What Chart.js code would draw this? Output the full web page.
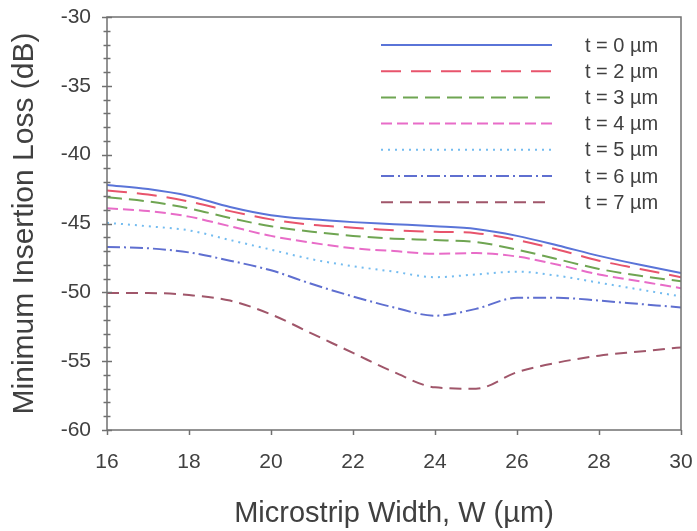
<!DOCTYPE html>
<html>
<head>
<meta charset="utf-8">
<script src="https://cdn.jsdelivr.net/npm/chart.js@4"></script>
<style>
html,body{margin:0;padding:0;background:#fff;}
#wrap{width:697px;height:531px;position:relative;}
</style>
</head>
<body>
<div id="wrap"><canvas id="c" width="697" height="531"></canvas></div>
<script>
const widths = [16,17,18,19,20,21,22,23,24,25,26,27,28,29,30];
const seriesLabels = ['t = 0 \u00b5m','t = 2 \u00b5m','t = 3 \u00b5m','t = 4 \u00b5m','t = 5 \u00b5m','t = 6 \u00b5m','t = 7 \u00b5m'];
const t0 = [-42.2,-42.5,-43.0,-43.8,-44.4,-44.7,-44.9,-45.05,-45.2,-45.4,-45.9,-46.6,-47.35,-48.0,-48.6];
const t2 = [-42.6,-42.9,-43.4,-44.1,-44.7,-45.1,-45.3,-45.5,-45.6,-45.7,-46.2,-46.9,-47.7,-48.3,-48.9];
const t3 = [-43.1,-43.4,-43.9,-44.6,-45.2,-45.6,-45.9,-46.1,-46.2,-46.35,-46.9,-47.6,-48.3,-48.8,-49.2];
const t4 = [-43.9,-44.1,-44.5,-45.2,-45.9,-46.4,-46.8,-47.0,-47.2,-47.15,-47.4,-48.0,-48.7,-49.2,-49.7];
const t5 = [-44.95,-45.2,-45.5,-46.2,-46.9,-47.6,-48.1,-48.5,-48.9,-48.7,-48.5,-48.8,-49.3,-49.8,-50.3];
const t6 = [-46.7,-46.8,-47.1,-47.7,-48.4,-49.4,-50.3,-51.1,-51.7,-51.2,-50.4,-50.4,-50.6,-50.85,-51.1];
const t7 = [-50.05,-50.05,-50.2,-50.6,-51.6,-53.0,-54.4,-55.8,-56.9,-57.0,-55.8,-55.1,-54.6,-54.3,-54.0];
const xTickValues = [16,18,20,22,24,26,28,30];
const yTickValues = [-30,-35,-40,-45,-50,-55,-60];

const allSeries = [t0,t2,t3,t4,t5,t6,t7];
const colors = ['#5a74d8','#e8546c','#6fa552','#e86cc8','#74bcf0','#5f6fd0','#a0566a'];
const dashes = [[],[20,10],[15,7],[11,5],[2,5],[13,4,2,4],[12,7]];

const datasets = allSeries.map((vals,i)=>({
  label: seriesLabels[i],
  data: widths.map((w,j)=>({x:w,y:vals[j]})),
  borderColor: colors[i],
  borderWidth: 2,
  borderDash: dashes[i],
  pointRadius: 0,
  fill: false,
  tension: 0.4,
  cubicInterpolationMode: 'monotone'
}));

const txt = '#404040';
const axisCol = '#707070';
const fam = '"Liberation Sans", Arial, sans-serif';

const framePlugin = {
  id:'frame',
  afterDatasetsDraw(chart){
    const {ctx, chartArea:a, scales:{x,y}} = chart;
    ctx.save();
    ctx.strokeStyle = axisCol;
    ctx.lineWidth = 1.5;
    ctx.setLineDash([]);
    ctx.strokeRect(a.left, a.top, a.right-a.left, a.bottom-a.top);
    for(let v=-60; v<=-30; v+=1){
      const py = Math.round(y.getPixelForValue(v))+0.5;
      const major = v%5===0;
      const h = major?5:3.5;
      ctx.beginPath(); ctx.moveTo(a.left-h,py); ctx.lineTo(a.left+h,py); ctx.stroke();
    }
    xTickValues.forEach(v=>{
      const px = Math.round(x.getPixelForValue(v))+0.5;
      ctx.beginPath(); ctx.moveTo(px,a.bottom); ctx.lineTo(px,a.bottom+5); ctx.stroke();
    });
    ctx.font = '20px ' + fam;
    ctx.textBaseline = 'middle';
    ctx.textAlign = 'left';
    chart.data.datasets.forEach((ds,i)=>{
      const ly = 45 + i*26.2;
      ctx.strokeStyle = ds.borderColor;
      ctx.lineWidth = 2;
      ctx.setLineDash(ds.borderDash);
      ctx.beginPath(); ctx.moveTo(381,ly); ctx.lineTo(552,ly); ctx.stroke();
      ctx.setLineDash([]);
      ctx.fillStyle = txt;
      ctx.fillText(ds.label, 585, ly+1);
    });
    ctx.restore();
  }
};

new Chart(document.getElementById('c'), {
  type:'line',
  data:{datasets},
  options:{
    responsive:false,
    animation:false,
    layout:{padding:{top:17,right:16,left:0,bottom:0}},
    plugins:{legend:{display:false},tooltip:{enabled:false}},
    scales:{
      x:{
        type:'linear', min:16, max:30,
        afterBuildTicks(s){ s.ticks = xTickValues.map(v=>({value:v})); },
        afterFit(s){ s.height = 101; s.paddingLeft = 0; s.paddingRight = 0; },
        grid:{display:false, drawTicks:false},
        border:{display:false},
        ticks:{color:txt, font:{size:21, family:fam}, padding:20, maxRotation:0},
        title:{display:true, text:'Microstrip Width, W (\u00b5m)', color:txt, font:{size:29, family:fam}, padding:{top:0,bottom:0}}
      },
      y:{
        type:'linear', min:-60, max:-30,
        afterBuildTicks(s){ s.ticks = yTickValues.map(v=>({value:v})); },
        afterFit(s){ s.width = 107; s.paddingTop = 0; s.paddingBottom = 0; },
        grid:{display:false, drawTicks:false},
        border:{display:false},
        ticks:{color:txt, font:{size:21, family:fam}, padding:16},
        title:{display:true, text:'Minimum Insertion Loss (dB)', color:txt, font:{size:30, family:fam}, padding:{top:7,bottom:0}}
      }
    }
  },
  plugins:[framePlugin]
});
</script>
</body>
</html>
